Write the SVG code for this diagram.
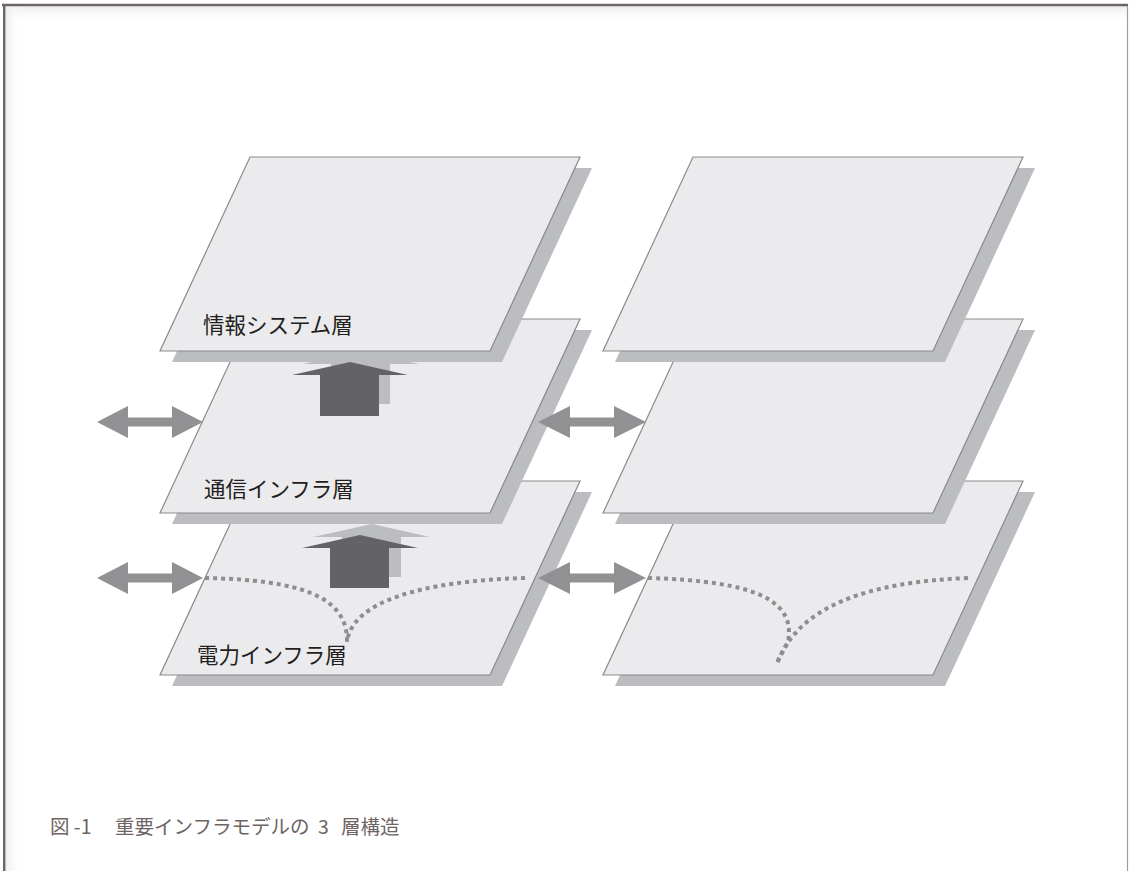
<svg xmlns="http://www.w3.org/2000/svg" width="1129" height="871" viewBox="0 0 1129 871">
<defs>
<linearGradient id="gTop" x1="0" y1="0" x2="0" y2="1"><stop offset="0" stop-color="#ececec"/><stop offset="1" stop-color="#ffffff" stop-opacity="0"/></linearGradient>
<linearGradient id="gLeft" x1="0" y1="0" x2="1" y2="0"><stop offset="0" stop-color="#ececec"/><stop offset="1" stop-color="#ffffff" stop-opacity="0"/></linearGradient>
<polygon id="plane" points="250,0 580,0 490,194 160,194"/>
</defs>
<style>
.shadow{fill:#bcbdc0}
.plane{fill:#ebebed;stroke:#8a8a8c;stroke-width:1.2}
.dbl{fill:#919194}
.up{fill:#636366}
.upsh{fill:#bcbdc0}
.dot{fill:none;stroke:#8e8e90;stroke-width:4;stroke-dasharray:4 4}
.lbl{font-family:"Noto Sans CJK JP","Noto Sans",sans-serif;font-size:21.5px;fill:#231f20}
.cap{font-family:"Noto Sans CJK JP","Noto Sans",sans-serif;font-size:19.5px;fill:#6e6464}
</style>
<rect width="1129" height="871" fill="#ffffff"/>
<rect x="5" y="6" width="1122" height="16" fill="url(#gTop)"/>
<rect x="5" y="6" width="16" height="865" fill="url(#gLeft)"/>
<g id="frame">
<line x1="2" y1="5" x2="1128" y2="5" stroke="#6f6566" stroke-width="2.4"/>
<line x1="4.2" y1="4" x2="4.2" y2="871" stroke="#6f6566" stroke-width="2.4"/>
<line x1="1127.5" y1="6" x2="1127.5" y2="871" stroke="#a39c9e" stroke-width="1.2"/>
</g>
<g id="power-left">
<use href="#plane" class="shadow" transform="translate(12,492)"/>
<use href="#plane" class="plane" transform="translate(0,481)"/>
<path class="dot" d="M205,578 C300,580 348,596 347,642"/>
<path class="dot" d="M525,578 C420,581 352,602 347,642"/>
<text class="lbl" x="197" y="663">電力インフラ層</text>
</g>
<g id="power-right">
<use href="#plane" class="shadow" transform="translate(455,492)"/>
<use href="#plane" class="plane" transform="translate(443,481)"/>
<path class="dot" d="M648,578 C755,581 796,600 788,642 L776,664"/>
<path class="dot" d="M968,578 C868,582 798,606 777,664"/>
</g>
<g id="up-arrow-lower">
<polygon class="upsh" points="313,537 372,524 430,537 401,537 401,577 342,577 342,537"/>
<polygon class="up" points="302,548 360,535 418,548 389,548 389,588 330,588 330,548"/>
</g>
<g id="comm-left">
<use href="#plane" class="shadow" transform="translate(12,330)"/>
<use href="#plane" class="plane" transform="translate(0,319)"/>
<text class="lbl" x="204" y="497">通信インフラ層</text>
</g>
<g id="comm-right">
<use href="#plane" class="shadow" transform="translate(455,330)"/>
<use href="#plane" class="plane" transform="translate(443,319)"/>
</g>
<g id="up-arrow-upper">
<polygon class="upsh" points="303,364 361,351 419,364 390,364 390,404 331,404 331,364"/>
<polygon class="up" points="292,375 350,362 408,375 379,375 379,416 320,416 320,375"/>
</g>
<g id="info-left">
<use href="#plane" class="shadow" transform="translate(12,168)"/>
<use href="#plane" class="plane" transform="translate(0,157)"/>
<text class="lbl" x="203" y="333">情報システム層</text>
</g>
<g id="info-right">
<use href="#plane" class="shadow" transform="translate(455,168)"/>
<use href="#plane" class="plane" transform="translate(443,157)"/>
</g>
<g id="connectors">
<polygon class="dbl" points="97,422 128,406 128,417.5 172,417.5 172,406 203,422 172,438 172,426.5 128,426.5 128,438"/>
<polygon class="dbl" points="97,578 128,562 128,573.5 172,573.5 172,562 203,578 172,594 172,582.5 128,582.5 128,594"/>
<polygon class="dbl" points="538,422 570,406 570,417.5 614,417.5 614,406 646,422 614,438 614,426.5 570,426.5 570,438"/>
<polygon class="dbl" points="538,578 570,562 570,573.5 614,573.5 614,562 646,578 614,594 614,582.5 570,582.5 570,594"/>
</g>
<g id="caption">
<text class="cap" x="50" y="834">図 -1</text>
<text class="cap" x="115" y="834">重要インフラモデルの</text>
<text class="cap" x="318" y="834">3</text>
<text class="cap" x="341" y="834">層構造</text>
</g>
</svg>
